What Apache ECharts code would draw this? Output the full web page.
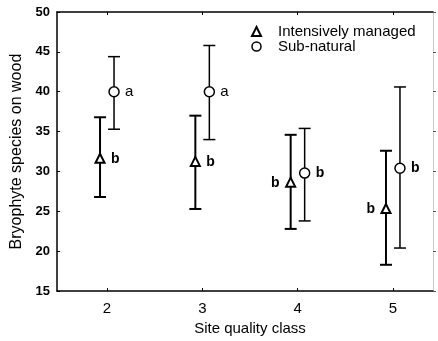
<!DOCTYPE html>
<html>
<head>
<meta charset="utf-8">
<script src="https://cdn.jsdelivr.net/npm/echarts@6/dist/echarts.min.js"></script>
<style>
  html, body { margin: 0; padding: 0; background: #fff; }
  #box { width: 438px; height: 341px; }
</style>
</head>
<body>
<div id="box"></div>
<script>
// site quality classes
const sites = [2, 3, 4, 5];

// intensively managed: mean and error bar ends
const intMean = [31.6, 31.2, 28.6, 25.3];
const intLow = [26.8, 25.3, 22.8, 18.3];
const intHigh = [36.8, 37.0, 34.6, 32.6];
const intLetters = ['b', 'b', 'b', 'b'];

// sub-natural
const subMean = [40.0, 40.0, 29.8, 30.4];
const subLow = [35.3, 34.0, 23.8, 20.4];
const subHigh = [44.4, 45.8, 35.4, 40.6];
const subLetters = ['a', 'a', 'b', 'b'];

const yTicks = [15, 20, 25, 30, 35, 40, 45, 50];

// which side the letter sits on
const intSides = ['right', 'right', 'left', 'left'];
const subSides = ['right', 'right', 'right', 'right'];

const FONT = '"Liberation Sans", Arial, Helvetica, sans-serif';

function makeRender(offset, shape, letters, sides, lw) {
	return function(params, api) {
		let i = params.dataIndex;
		let p = api.coord([api.value(0), api.value(1)]);
		let x = p[0] + offset;
		let y = p[1];
		let yLow = api.coord([api.value(0), api.value(2)])[1];
		let yHigh = api.coord([api.value(0), api.value(3)])[1];
		let st = { stroke: '#000', lineWidth: lw };
		let kids = [
			{ type: 'line', shape: { x1: x, y1: yLow, x2: x, y2: yHigh }, style: st },
			{ type: 'line', shape: { x1: x - 6, y1: yLow, x2: x + 6, y2: yLow }, style: st },
			{ type: 'line', shape: { x1: x - 6, y1: yHigh, x2: x + 6, y2: yHigh }, style: st }
		];
		if (shape === 'triangle') {
			kids.push({
				type: 'polygon',
				shape: { points: [[x, y - 5], [x - 4.5, y + 4], [x + 4.5, y + 4]] },
				style: { fill: '#fff', stroke: '#000', lineWidth: 2 }
			});
		} else {
			kids.push({
				type: 'circle',
				shape: { cx: x, cy: y, r: 5 },
				style: { fill: '#fff', stroke: '#000', lineWidth: 1.5 }
			});
		}
		let left = sides[i] === 'left';
		let letter = letters[i];
		kids.push({
			type: 'text',
			style: {
				text: letter,
				x: left ? x - 11 : x + 11,
				y: y,
				align: left ? 'right' : 'left',
				verticalAlign: 'middle',
				fill: '#000',
				font: (letter === 'b' ? 'bold 14px ' : '15px ') + FONT
			}
		});
		return { type: 'group', children: kids };
	};
}

let intData = sites.map(function(s, i) { return [s, intMean[i], intLow[i], intHigh[i]]; });
let subData = sites.map(function(s, i) { return [s, subMean[i], subLow[i], subHigh[i]]; });

let chart = echarts.init(document.getElementById('box'));

let option = {
	animation: false,
	textStyle: { fontFamily: FONT, color: '#000' },
	grid: { left: 57, top: 12, right: 5, bottom: 45 },
	legend: {
		orient: 'vertical',
		left: 251,
		top: 24,
		padding: 0,
		itemGap: 0,
		itemWidth: 9,
		itemHeight: 9,
		selectedMode: false,
		textStyle: { fontSize: 15, color: '#000', lineHeight: 13, padding: [0, 0, 0, 12] },
		data: [
			{ name: 'Intensively managed', icon: 'triangle', itemStyle: { color: '#fff', borderColor: '#000', borderWidth: 2 } },
			{ name: 'Sub-natural', icon: 'circle', itemStyle: { color: '#fff', borderColor: '#000', borderWidth: 1.5 } }
		]
	},
	xAxis: [{
		type: 'value',
		min: 1.475,
		max: 5.42,
		name: 'Site quality class',
		nameLocation: 'middle',
		nameGap: 23,
		nameTextStyle: { fontSize: 15, color: '#000', padding: [0, 0, 0, 10] },
		splitLine: { show: false },
		axisLine: { lineStyle: { color: '#000', width: 1.5 } },
		axisTick: { inside: true, length: 3, customValues: sites, lineStyle: { color: '#000' } },
		axisLabel: { customValues: sites, fontSize: 15, color: '#000', margin: 10 }
	}, {
		type: 'value',
		position: 'top',
		min: 1.475,
		max: 5.42,
		splitLine: { show: false },
		axisLine: { lineStyle: { color: '#000', width: 1.5 } },
		axisTick: { inside: true, length: 3, customValues: sites, lineStyle: { color: '#000' } },
		axisLabel: { show: false }
	}],
	yAxis: [{
		type: 'value',
		min: 15,
		max: 50,
		interval: 5,
		name: 'Bryophyte species on wood',
		nameLocation: 'middle',
		nameGap: 30,
		nameTextStyle: { fontSize: 16, color: '#000' },
		splitLine: { show: false },
		axisLine: { show: true, lineStyle: { color: '#000', width: 1.5 } },
		axisTick: { show: true, inside: true, length: 3, customValues: yTicks, lineStyle: { color: '#000' } },
		axisLabel: { customValues: yTicks, fontSize: 13, fontWeight: 'bold', color: '#000', margin: 7 }
	}, {
		type: 'value',
		position: 'right',
		min: 15,
		max: 50,
		interval: 5,
		splitLine: { show: false },
		axisLine: { show: true, lineStyle: { color: '#ccc', width: 1 } },
		axisTick: { show: true, length: 3, lineStyle: { color: '#555' } },
		axisLabel: { show: false }
	}],
	series: [{
		name: 'Intensively managed',
		type: 'custom',
		clip: false,
		itemStyle: { color: '#fff', borderColor: '#000' },
		renderItem: makeRender(-7, 'triangle', intLetters, intSides, 2),
		data: intData
	}, {
		name: 'Sub-natural',
		type: 'custom',
		clip: false,
		itemStyle: { color: '#fff', borderColor: '#000' },
		renderItem: makeRender(7, 'circle', subLetters, subSides, 1.5),
		data: subData
	}]
};

chart.setOption(option);
</script>
</body>
</html>
